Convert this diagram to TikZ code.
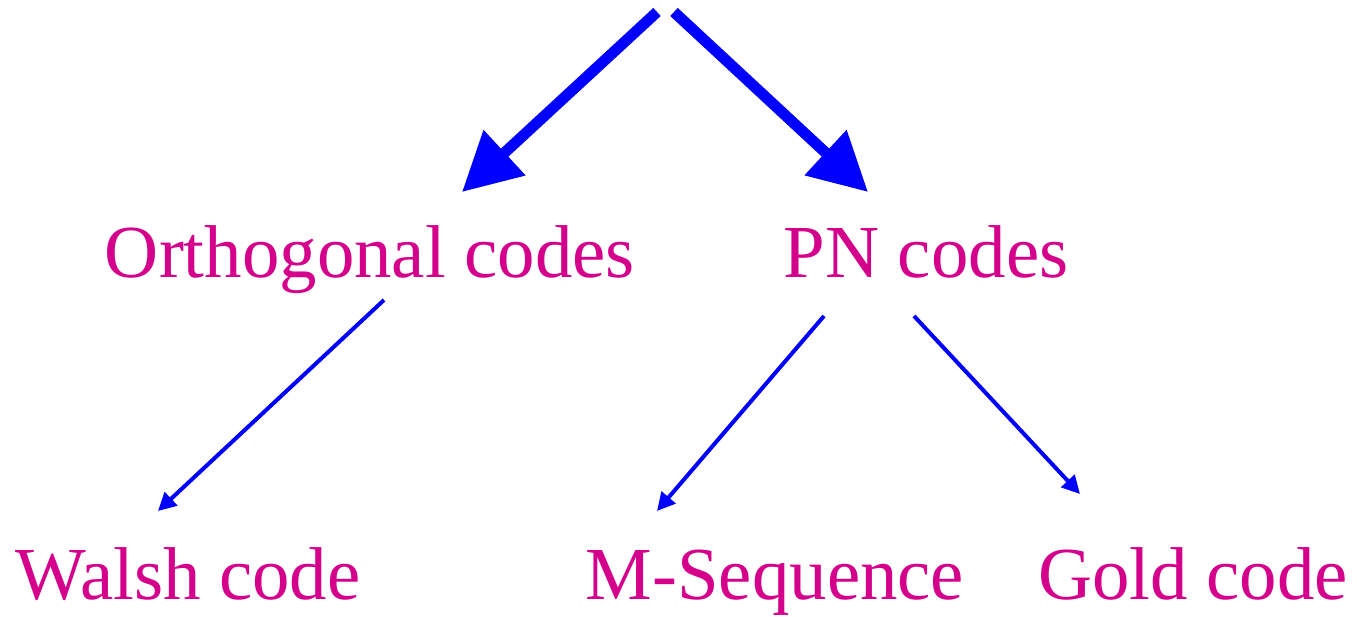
\documentclass[tikz,border=0pt]{standalone}
\usepackage{fontspec}
\setmainfont{Liberation Serif}
\usetikzlibrary{arrows.meta}
\definecolor{codemag}{RGB}{212,0,140}
\definecolor{arrblue}{RGB}{0,0,255}
\begin{document}
\begin{tikzpicture}[x=0.02cm,y=-0.02cm,
  label/.style={text=codemag,font=\fontsize{42.6}{50}\selectfont,anchor=base,inner sep=0pt},
  bigarrow/.style={draw=arrblue,line width=0.22cm,-{Triangle[length=1.16cm,width=1.18cm]}},
  smallarrow/.style={draw=arrblue,line width=0.08cm,-{Triangle[length=0.36cm,width=0.36cm]}}]
  \useasboundingbox (0,0) rectangle (1357,617);
  % code family labels
  \node[label] (orth) at (370,278) {Orthogonal codes};
  \node[label] (pn) at (926,278) {PN codes};
  \node[label] (walsh) at (188,600) {Walsh code};
  \node[label] (mseq) at (775,600) {M-Sequence};
  \node[label] (gold) at (1193,600) {Gold code};
  % arrow end points
  \coordinate (rootL) at (657,12);
  \coordinate (rootR) at (674,12);
  \coordinate (orthTip) at (462,192);
  \coordinate (pnTip) at (868,192);
  \coordinate (orthOut) at (384,300);
  \coordinate (pnOutL) at (824,316);
  \coordinate (pnOutR) at (914,316);
  \coordinate (walshTip) at (158,511);
  \coordinate (mseqTip) at (657,511);
  \coordinate (goldTip) at (1080,494);
  % classification arrows
  \draw[bigarrow] (rootL) -- (orthTip);
  \draw[bigarrow] (rootR) -- (pnTip);
  \draw[smallarrow] (orthOut) -- (walshTip);
  \draw[smallarrow] (pnOutL) -- (mseqTip);
  \draw[smallarrow] (pnOutR) -- (goldTip);
\end{tikzpicture}
\end{document}
